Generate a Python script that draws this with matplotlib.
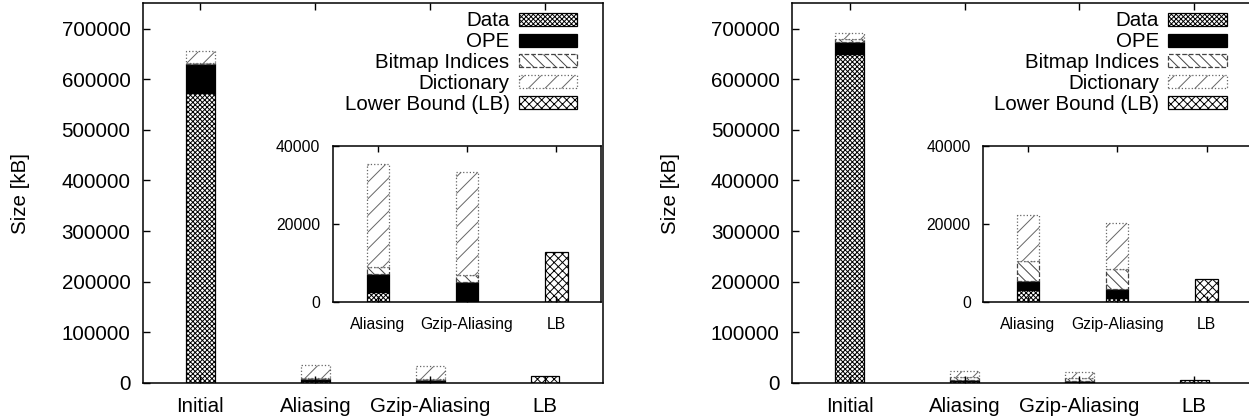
import numpy as np
import matplotlib
matplotlib.use('Agg')
import matplotlib.pyplot as plt

plt.rcParams['font.family'] = ['Liberation Sans', 'DejaVu Sans']
plt.rcParams['hatch.linewidth'] = 0.7

# categories
categories = ['Initial', 'Aliasing', 'Gzip-Aliasing', 'LB']
inset_categories = ['Aliasing', 'Gzip-Aliasing', 'LB']

# left chart (values in kB), stacked for Initial / Aliasing / Gzip-Aliasing
data_l = [573900, 2480, 300]
ope_l = [56200, 4785, 4830]
bitmap_l = [1500, 1712, 1710]
dict_l = [25400, 26423, 26420]
lb_l = 12800

# right chart
data_r = [649900, 3160, 1030]
ope_r = [24900, 2310, 2390]
bitmap_r = [4800, 4960, 5040]
dict_r = [11800, 11870, 11800]
lb_r = 5900

series_names = ['Data', 'OPE', 'Bitmap Indices', 'Dictionary', 'Lower Bound (LB)']
styles = {
    'Data': dict(facecolor='white', edgecolor='black', hatch='xxxxxxx', linestyle='-'),
    'OPE': dict(facecolor='black', edgecolor='black', hatch=None, linestyle='-'),
    'Bitmap Indices': dict(facecolor='white', edgecolor='#444444', hatch='\\\\\\', linestyle='--'),
    'Dictionary': dict(facecolor='white', edgecolor='#666666', hatch='//', linestyle=':'),
    'Lower Bound (LB)': dict(facecolor='white', edgecolor='black', hatch='xxxx', linestyle='-'),
}


def draw_bars(ax, xs, stacks, lb_x, lb_val, width=0.25):
    bottom = np.zeros(len(xs))
    handles = []
    for name, vals in zip(series_names[:4], stacks):
        h = ax.bar(xs, vals, width, bottom=bottom, linewidth=0.9, label=name, **styles[name])
        bottom = bottom + np.array(vals)
        handles.append(h)
    h = ax.bar([lb_x], [lb_val], width, linewidth=0.9, label=series_names[4], **styles[series_names[4]])
    handles.append(h)
    return handles


def style_axes(ax, fs, pad_x, pad_y, tlen):
    for s in ax.spines.values():
        s.set_linewidth(1.1)
    ax.tick_params(axis='x', direction='in', length=tlen, width=1.0, top=True, bottom=True,
                   labelsize=fs, pad=pad_x)
    ax.tick_params(axis='y', direction='in', length=tlen, width=1.0, left=True, right=False,
                   labelsize=fs, pad=pad_y)


fig = plt.figure(figsize=(12.49, 4.19), dpi=100)

panels = [
    (143, 20, 333, [data_l, ope_l, bitmap_l, dict_l], lb_l),
    (792.3, 670, 983.3, [data_r, ope_r, bitmap_r, dict_r], lb_r),
]

W, H = 1249.0, 419.0
for left_px, ylab_px, inset_px, stacks, lbv in panels:
    ax = fig.add_axes([left_px / W, 1 - 382.7 / H, 459.5 / W, 379.2 / H])
    handles = draw_bars(ax, np.arange(3), stacks, 3, lbv)
    ax.set_xlim(-0.5, 3.5)
    ax.set_ylim(0, 750000)
    ax.set_xticks(np.arange(4))
    ax.set_xticklabels(categories)
    ax.set_yticks(np.arange(0, 700001, 100000))
    style_axes(ax, 14.8, 10.5, 9, 5)
    fig.text(ylab_px / W, 1 - 193 / H, 'Size [kB]', rotation=90, fontsize=14.8,
             ha='center', va='center')
    ax.legend(handles, series_names, loc='upper right', bbox_to_anchor=(0.9455, 0.979),
              frameon=False, markerfirst=False, fontsize=14.8, borderpad=0, borderaxespad=0,
              handlelength=2.85, handleheight=0.6, handletextpad=0.45, labelspacing=0.09)

    ins = fig.add_axes([inset_px / W, 1 - 302 / H, 268 / W, 156 / H])
    draw_bars(ins, np.arange(2), [s[1:] for s in stacks], 2, lbv)
    ins.set_xlim(-0.5, 2.5)
    ins.set_ylim(0, 40000)
    ins.set_xticks(np.arange(3))
    ins.set_xticklabels(inset_categories)
    ins.set_yticks([0, 20000, 40000])
    style_axes(ins, 11.3, 10.5, 9, 4)

fig.savefig('out.png', dpi=100)
